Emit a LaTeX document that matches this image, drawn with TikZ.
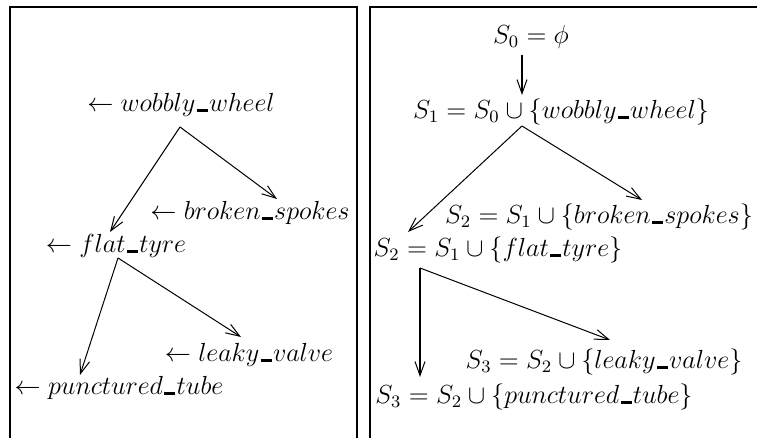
\documentclass[tikz,border=0pt]{standalone}
\usetikzlibrary{arrows.meta}
\newcommand\usc{\kern0.05em\rule{0.42em}{0.09em}\kern0.05em}
\begin{document}
\begin{tikzpicture}[x=0.5pt,y=-0.5pt,
  lbl/.style={inner sep=0pt,font=\fontsize{12}{14.5}\selectfont,scale=1.09},
  frame/.style={line width=1.4pt},
  thin/.style={line width=0.5pt,-{Straight Barb[length=7pt,width=5pt,line width=0.5pt]}},
  thick/.style={line width=1.4pt,-{Straight Barb[length=7pt,width=5pt,line width=0.5pt]}}]
\useasboundingbox (0,0) rectangle (757,438);
% frames
\draw[frame] (10,438) -- (10,7) -- (357,7) -- (357,438);
\draw[frame] (370,438) -- (370,7) -- (757,7);
% left panel
\node[lbl] (lw) at (181,105) {$\leftarrow wobbly\usc wheel$};
\node[lbl] (lb) at (250,213) {$\leftarrow broken\usc spokes$};
\node[lbl] (lf) at (116,246) {$\leftarrow flat\usc tyre$};
\node[lbl] (ll) at (249,355) {$\leftarrow leaky\usc valve$};
\node[lbl] (lp) at (119,388) {$\leftarrow punctured\usc tube$};
\coordinate (a1) at (180,127);
\coordinate (a1l) at (110,232);
\coordinate (a1r) at (277,199);
\coordinate (a2) at (118,258);
\coordinate (a2l) at (80,375);
\coordinate (a2r) at (241,337);
\draw[thin] (a1) -- (a1l);
\draw[thin] (a1) -- (a1r);
\draw[thin] (a2) -- (a2l);
\draw[thin] (a2) -- (a2r);
% right panel
\node[lbl] (r0) at (531,37) {$S_0 = \phi$};
\node[lbl] (r1) at (561,112) {$S_1 = S_0 \cup \{wobbly\usc wheel\}$};
\node[lbl] (r2b) at (599,217) {$S_2 = S_1 \cup \{broken\usc spokes\}$};
\node[lbl] (r2) at (498,250) {$S_2 = S_1 \cup \{flat\usc tyre\}$};
\node[lbl] (r3l) at (604,362) {$S_3 = S_2 \cup \{leaky\usc valve\}$};
\node[lbl] (r3) at (534,397) {$S_3 = S_2 \cup \{punctured\usc tube\}$};
\coordinate (b0) at (522,55);
\coordinate (b0e) at (522,95);
\coordinate (b1) at (522,126);
\coordinate (b1l) at (408,232);
\coordinate (b1r) at (642,200);
\coordinate (b2) at (420,268);
\coordinate (b2d) at (420,377);
\coordinate (b2r) at (610,340);
\draw[thick] (b0) -- (b0e);
\draw[thin] (b1) -- (b1l);
\draw[thin] (b1) -- (b1r);
\draw[thick] (b2) -- (b2d);
\draw[thin] (b2) -- (b2r);
\end{tikzpicture}
\end{document}
